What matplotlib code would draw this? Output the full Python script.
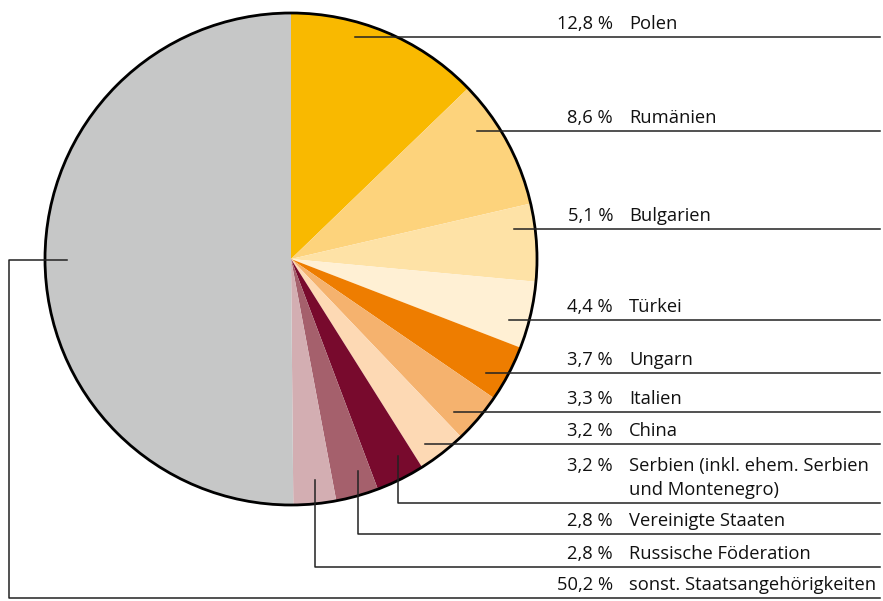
import matplotlib
matplotlib.use("Agg")
import matplotlib.pyplot as plt
from matplotlib.patches import Circle

W, H = 883, 601

countries = ["Polen", "Rumänien", "Bulgarien", "Türkei", "Ungarn", "Italien",
             "China", "Serbien (inkl. ehem. Serbien\nund Montenegro)",
             "Vereinigte Staaten", "Russische Föderation",
             "sonst. Staatsangehörigkeiten"]
shares = [12.8, 8.6, 5.1, 4.4, 3.7, 3.3, 3.2, 3.2, 2.8, 2.8, 50.2]
share_labels = ["12,8 %", "8,6 %", "5,1 %", "4,4 %", "3,7 %", "3,3 %",
                "3,2 %", "3,2 %", "2,8 %", "2,8 %", "50,2 %"]
colors = ["#F9B900", "#FDD37C", "#FEE2A6", "#FFF0D4", "#EE7D00", "#F5B26E",
          "#FDD9B4", "#780A2D", "#A5606C", "#D3AEB2", "#C6C7C7"]

# layout (pixel coords, y measured from top)
cx, cy, r = 291, 259, 246
line_y = [37, 131, 229, 320, 373, 412, 444, 503, 534, 567, 598]
# leader anchors: (x, y, kind)  kind: h = straight, v = down then right
anchors = [(355, 37, "h"), (477, 131, "h"), (514, 229, "h"), (509, 320, "h"),
           (486, 373, "h"), (454, 412, "h"), (425, 444, "h"),
           (398, 456, "v"), (358, 471, "v"), (315, 480, "v"), (67, 260, "l")]
x_end = 880
x_pct = 613
x_name = 629


def fy(y):
    return H - y


fig = plt.figure(figsize=(W / 100, H / 100), dpi=100)
ax = fig.add_axes([0, 0, 1, 1])

ax.pie(shares, colors=colors, startangle=90, counterclock=False,
       center=(cx, fy(cy)), radius=r, wedgeprops=dict(linewidth=0))
ax.add_patch(Circle((cx, fy(cy)), r, fill=False, lw=2.0, ec="black", zorder=3))

lc = "#222222"
lw = 1.1
for (ax_x, ax_y, kind), ly in zip(anchors, line_y):
    if kind == "h":
        ax.plot([ax_x, x_end], [fy(ly), fy(ly)], color=lc, lw=lw, zorder=4)
    elif kind == "v":
        ax.plot([ax_x, ax_x, x_end], [fy(ax_y), fy(ly), fy(ly)],
                color=lc, lw=lw, zorder=4)
    else:
        ax.plot([ax_x, 9, 9, x_end], [fy(ax_y), fy(ax_y), fy(ly), fy(ly)],
                color=lc, lw=lw, zorder=4)

fs = 13.2
for name, pct, ly in zip(countries, share_labels, line_y):
    nlines = name.count("\n")
    base = ly - 8 - nlines * 24
    ax.text(x_pct, fy(base), pct, ha="right", va="baseline", fontsize=fs,
            family="Open Sans", color="#111111")
    for i, part in enumerate(name.split("\n")):
        ax.text(x_name, fy(base + i * 24), part, ha="left", va="baseline",
                fontsize=fs, family="Open Sans", color="#111111")

ax.set_xlim(0, W)
ax.set_ylim(0, H)
ax.set_aspect("equal")
ax.axis("off")

fig.savefig("out.png", dpi=100)
